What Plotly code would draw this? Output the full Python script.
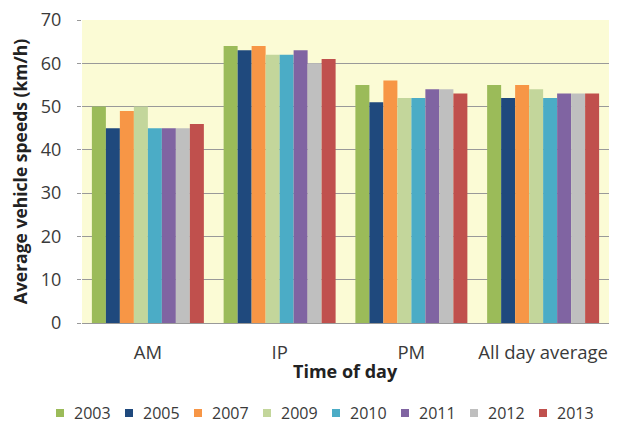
import plotly.graph_objects as go

categories = ["AM", "IP", "PM", "All day average"]
years = ["2003", "2005", "2007", "2009", "2010", "2011", "2012", "2013"]
values = {
    "2003": [50, 64, 55, 55],
    "2005": [45, 63, 51, 52],
    "2007": [49, 64, 56, 55],
    "2009": [50, 62, 52, 54],
    "2010": [45, 62, 52, 52],
    "2011": [45, 63, 54, 53],
    "2012": [45, 60, 54, 53],
    "2013": [46, 61, 53, 53],
}
colors = {
    "2003": "#9BBB59",
    "2005": "#1F497D",
    "2007": "#F79646",
    "2009": "#C3D69B",
    "2010": "#4BACC6",
    "2011": "#8064A2",
    "2012": "#BFBFBF",
    "2013": "#C0504D",
}
y_ticks = [0, 10, 20, 30, 40, 50, 60, 70]

font_family = "Open Sans, Liberation Sans, sans-serif"

# page body has an 8px margin, so the figure is sized 612x415
W, H = 612, 415
ML, MR, MT, MB = 74, 11, 12, 100
PW, PH = W - ML - MR, H - MT - MB

fig = go.Figure()
for yr in years:
    fig.add_trace(go.Bar(
        x=categories, y=values[yr], name=yr,
        marker=dict(color=colors[yr], line=dict(width=0)),
    ))

# legend drawn as swatches + labels in one row (built from years/colors)
leg_left, leg_step, sw, txt_off, leg_cy = 48, 69, 8, 16, 405
shapes, annotations = [], []
for i, yr in enumerate(years):
    x0 = leg_left + i * leg_step
    shapes.append(dict(
        type="rect", xref="paper", yref="paper",
        x0=(x0 - ML) / PW, x1=(x0 + sw - ML) / PW,
        y0=(MT + PH - leg_cy - sw / 2) / PH, y1=(MT + PH - leg_cy + sw / 2) / PH,
        fillcolor=colors[yr], line=dict(width=0),
    ))
    annotations.append(dict(
        text=yr, xref="paper", yref="paper",
        x=(x0 + txt_off - ML) / PW, y=(MT + PH - leg_cy) / PH,
        xanchor="left", yanchor="middle", showarrow=False,
        font=dict(size=16, color="#3a3a3a"),
    ))

annotations.append(dict(
    text="<b>Time of day</b>", xref="paper", yref="paper",
    x=0.5, y=-48 / PH, xanchor="center", yanchor="middle",
    showarrow=False, font=dict(size=18, color="#222222"),
))

fig.update_layout(
    width=W, height=H,
    margin=dict(l=ML, r=MR, t=MT, b=MB, autoexpand=False),
    paper_bgcolor="white",
    plot_bgcolor="#FBFBD5",
    barmode="group",
    bargap=0.15,
    bargroupgap=0,
    font=dict(family=font_family, size=18.5, color="#3a3a3a"),
    showlegend=False,
    xaxis=dict(
        showgrid=False,
        showline=True, linecolor="#999999", linewidth=1,
        ticks="", tickfont=dict(size=18.5), ticklabelstandoff=13,
    ),
    yaxis=dict(
        range=[0, 70], tickvals=y_ticks,
        showgrid=True, gridcolor="#999999", gridwidth=1,
        zeroline=False,
        ticks="outside", ticklen=4, tickcolor="#999999",
        tickfont=dict(size=18), ticklabelstandoff=12,
        ticklabeloverflow="allow",
        title=dict(text="<b>Average vehicle speeds (km/h)</b>", font=dict(size=17.5, color="#222222"), standoff=12),
    ),
    shapes=shapes,
    annotations=annotations,
)

fig.write_html("out.html")
